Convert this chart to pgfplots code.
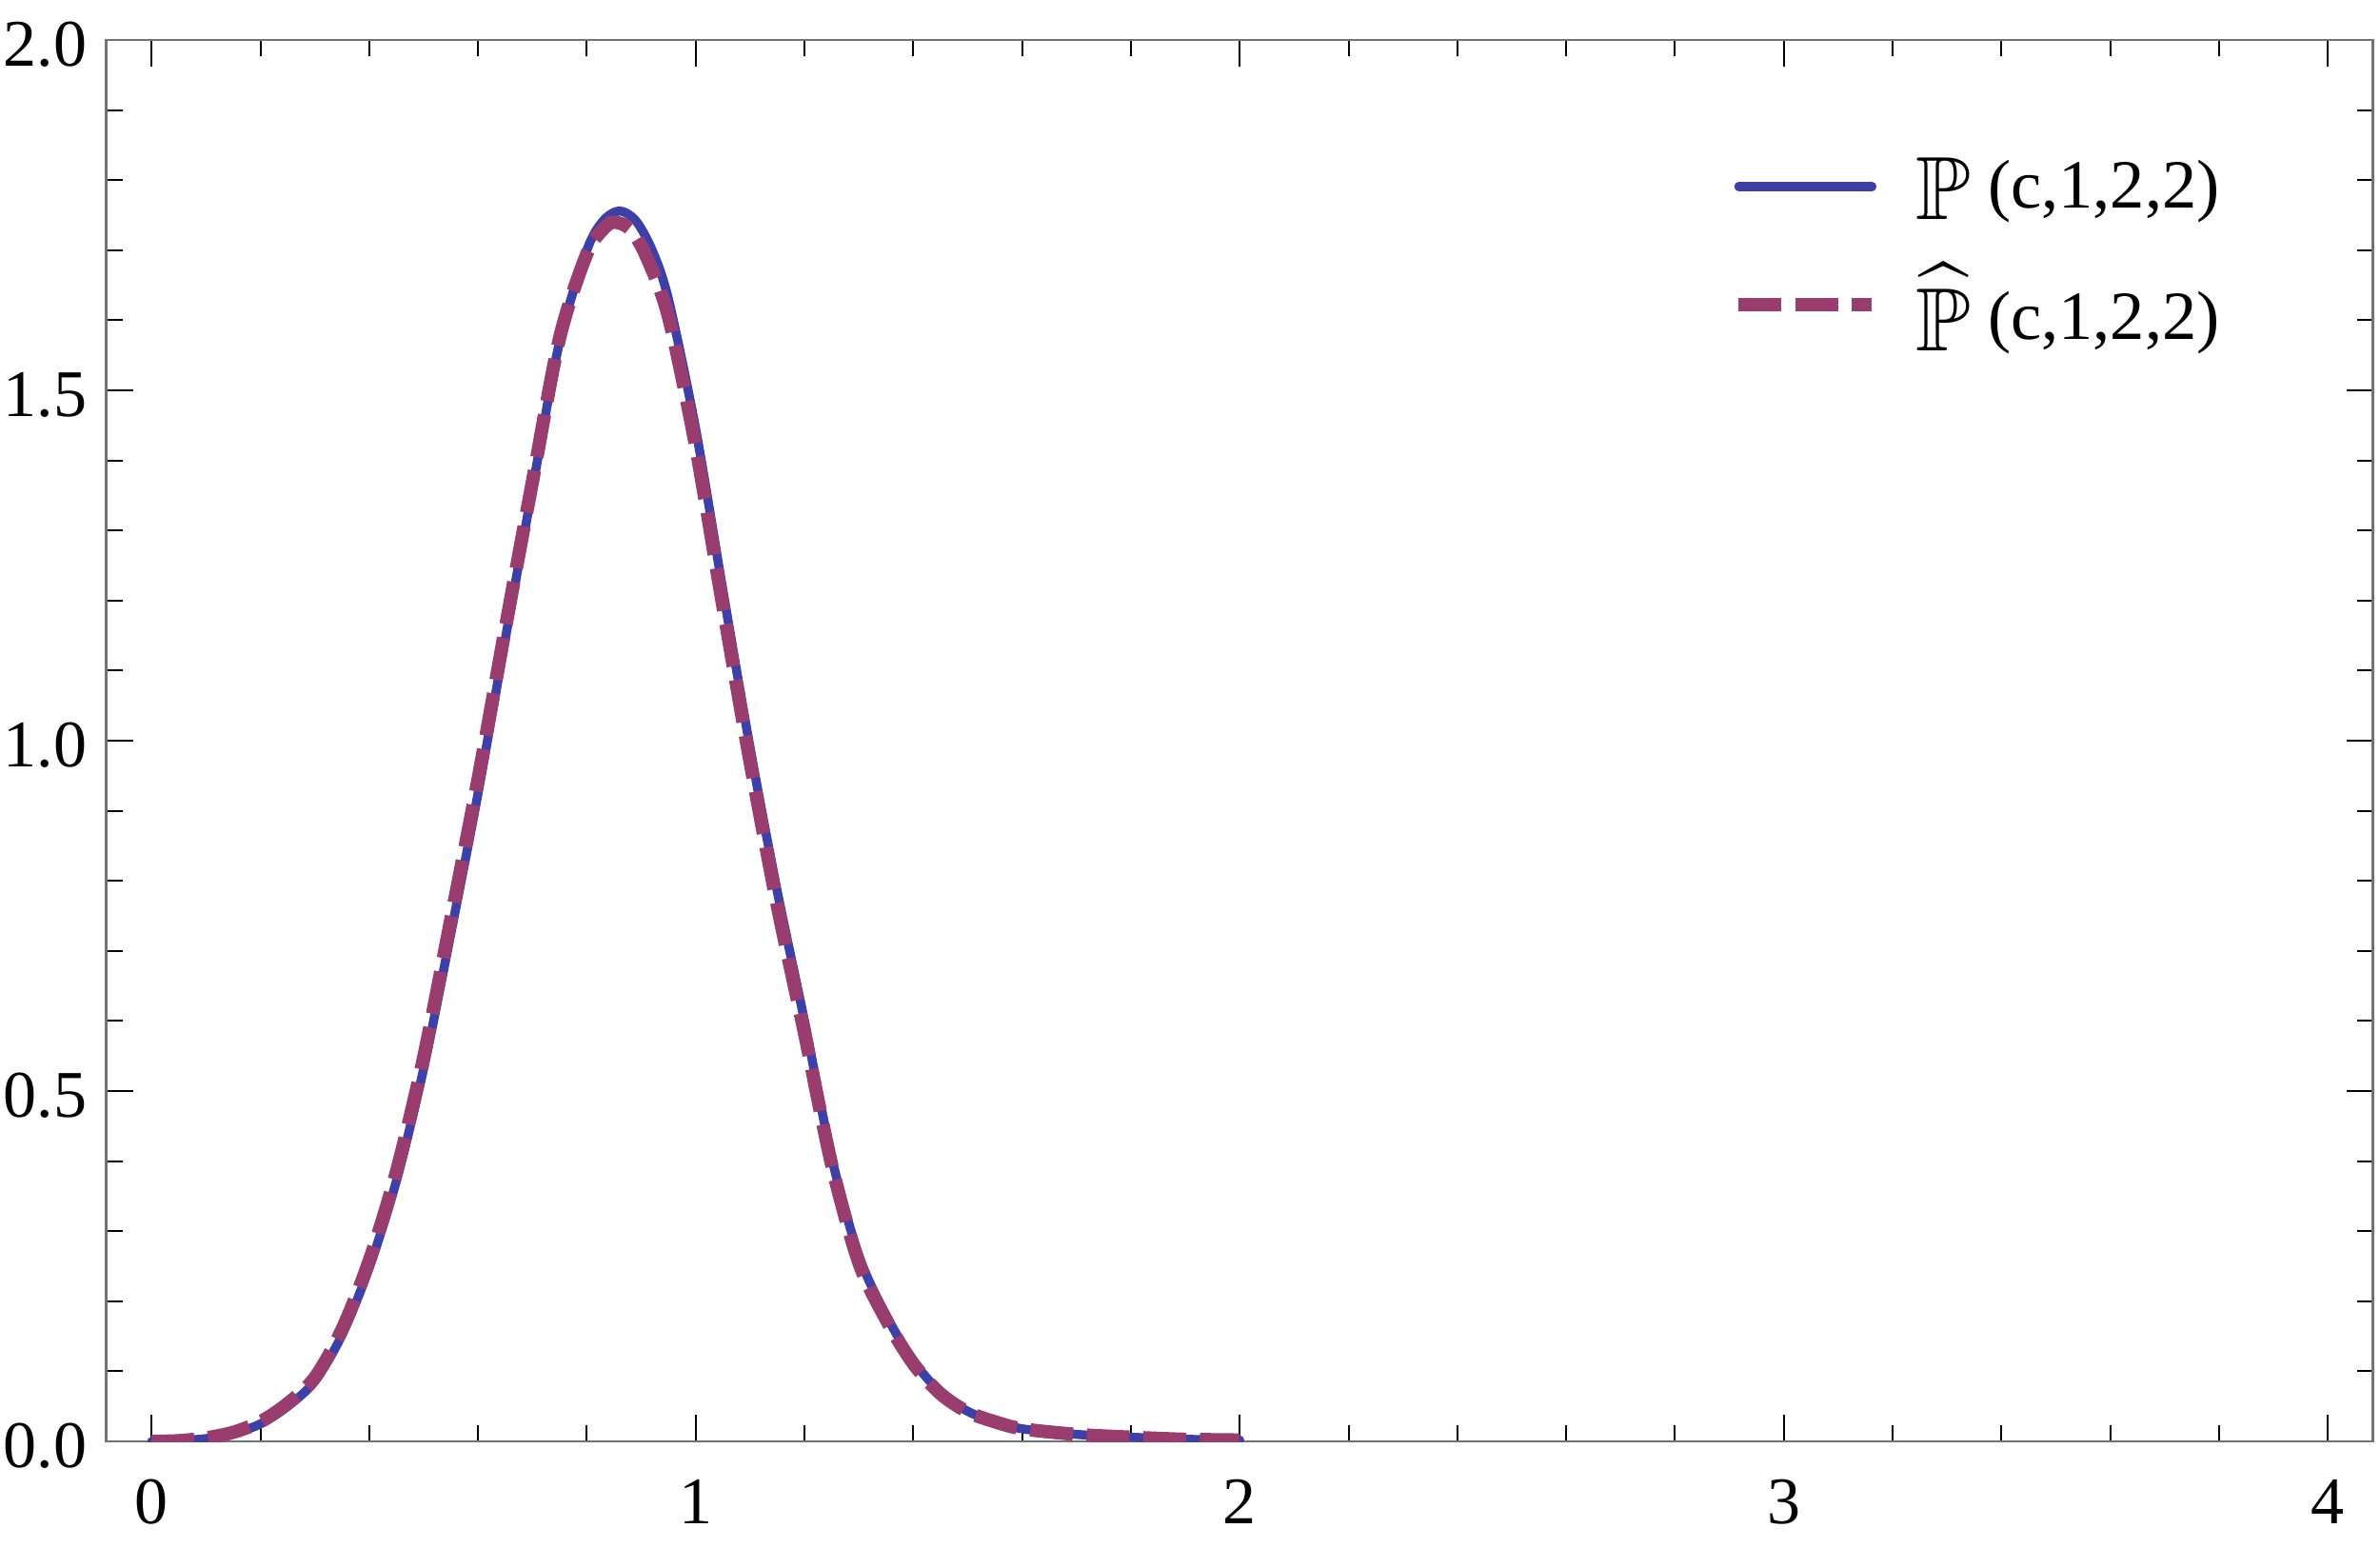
\documentclass[border=0pt]{standalone}
\usepackage{fontspec}
\setmainfont{Liberation Serif}
\usepackage{amssymb}
\usepackage{graphicx}
\usepackage{pgfplots}
\pgfplotsset{compat=1.18}
\definecolor{pblue}{RGB}{62,64,170}
\definecolor{pmag}{RGB}{153,61,110}
\pgfplotstableread{
x y
0.00 0.000
0.05 0.001
0.10 0.004
0.15 0.011
0.20 0.025
0.25 0.050
0.30 0.086
0.35 0.152
0.40 0.248
0.45 0.372
0.50 0.532
0.55 0.725
0.60 0.925
0.65 1.145
0.70 1.360
0.75 1.570
0.80 1.700
0.83 1.742
0.86 1.756
0.89 1.742
0.92 1.700
0.95 1.630
1.00 1.445
1.05 1.215
1.10 0.990
1.15 0.785
1.20 0.600
1.25 0.405
1.30 0.265
1.35 0.180
1.40 0.115
1.45 0.070
1.50 0.043
1.55 0.028
1.60 0.018
1.70 0.010
1.80 0.006
1.90 0.003
2.00 0.002
}\tblue
\pgfplotstableread{
x y
0.00 0.000
0.05 0.001
0.10 0.005
0.15 0.013
0.20 0.028
0.25 0.054
0.30 0.091
0.35 0.160
0.40 0.258
0.45 0.385
0.50 0.548
0.55 0.745
0.60 0.945
0.65 1.160
0.70 1.370
0.75 1.575
0.80 1.695
0.83 1.730
0.85 1.740
0.88 1.730
0.91 1.690
0.95 1.605
1.00 1.420
1.05 1.192
1.10 0.970
1.15 0.765
1.20 0.583
1.25 0.395
1.30 0.255
1.35 0.174
1.40 0.111
1.45 0.068
1.50 0.042
1.55 0.028
1.60 0.018
1.70 0.010
1.80 0.006
1.90 0.003
2.00 0.002
}\tmag
\begin{document}
\begin{tikzpicture}
\useasboundingbox (-22.34pt,-22.2pt) rectangle (477.66pt,302.8pt);
\begin{axis}[
  at={(0,0)}, anchor=south west,
  scale only axis, width=476.2pt, height=294.4pt,
  xmin=-0.0833, xmax=4.0833, ymin=0, ymax=2,
  xtick={0,1,2,3,4}, ytick={0,0.5,1,1.5,2},
  minor x tick num=4, minor y tick num=4,
  tick align=inside,
  major tick length=5.6pt, minor tick length=3.4pt,
  axis line style={draw=black!55, line width=0.55pt},
  every tick/.style={black, line width=0.4pt},
  /pgf/number format/assume math mode=true,
  ticklabel style={font=\fontsize{14}{16}\selectfont},
  yticklabel style={/pgf/number format/.cd, fixed, fixed zerofill, precision=1, /tikz/.cd, xshift=-0.6pt, yshift=-1pt},
  xticklabel style={yshift=-4.5pt},
  legend style={draw=none, fill=none, at={(0.7105,0.9303)}, anchor=north west,
    font=\fontsize{14.5}{17}\selectfont, row sep=6.1pt,
    /tikz/every odd column/.append style={column sep=5.8pt}},
  legend cell align=left,
  legend image code/.code={\draw[#1] (0pt,0pt) -- (28pt,0pt);},
]
\addplot[pblue, line width=1.9pt, smooth, line cap=round] table {\tblue};
\addlegendentry{\raisebox{-2.4pt}{\scalebox{1.3}{$\mathbb{P}$}} (c,1,2,2)}
\addplot[pmag, line width=2.8pt, smooth, dash pattern=on 9pt off 2.9pt] table {\tmag};
\addlegendentry{\raisebox{-2.4pt}{\scalebox{1.3}{$\widehat{\mathbb{P}}$}} (c,1,2,2)}
\end{axis}
\end{tikzpicture}
\end{document}
